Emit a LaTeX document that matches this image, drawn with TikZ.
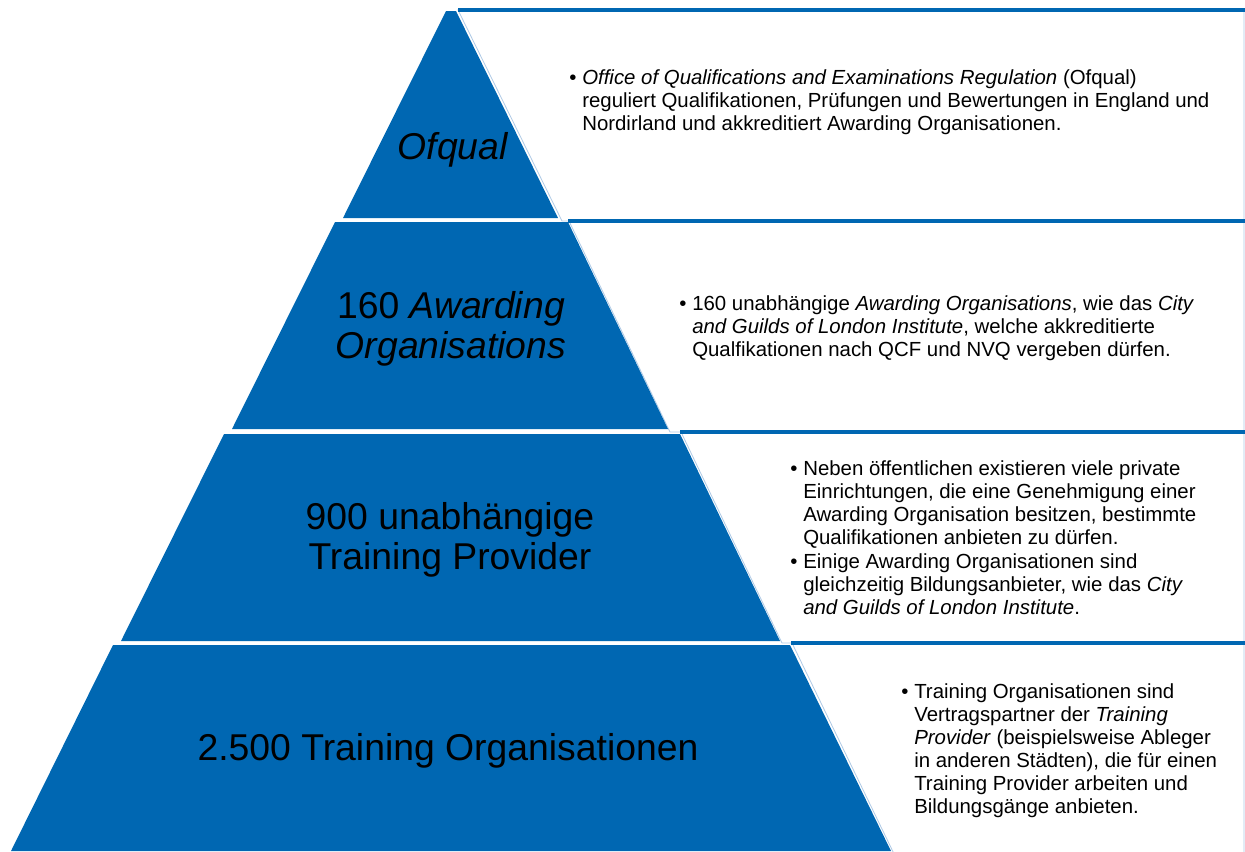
\documentclass[tikz,border=0pt]{standalone}
\usepackage{fontspec}
\setmainfont{Liberation Sans}
\definecolor{pblue}{RGB}{0,103,178}
\definecolor{pale}{RGB}{175,202,230}
\tikzset{
  tier/.style={fill=pblue, draw=none},
  panelframe/.style={draw=pale, line width=0.6pt, fill=white},
  paneltop/.style={draw=pblue, line width=2.4pt},
  biglabel/.style={font=\fontsize{28}{29.5}\selectfont, align=center, inner sep=0pt, text=black},
  bodytext/.style={font=\fontsize{15.3}{17.3}\selectfont, anchor=base west, inner sep=0pt},
  bul/.style={font=\fontsize{15.3}{17.3}\selectfont, anchor=base, inner sep=0pt},
}
\begin{document}
\begin{tikzpicture}[x=0.75pt,y=-0.75pt]
\useasboundingbox (0,0) rectangle (1245,851);
% panels
\draw[panelframe] (458,10) -- (1244,10) -- (1244,221) -- (562,221) -- cycle;
\draw[panelframe] (569,221) -- (1244,221) -- (1244,432) -- (670,432) -- cycle;
\draw[panelframe] (681,432) -- (1244,432) -- (1244,643) -- (782,643) -- cycle;
\draw[panelframe] (792,643) -- (1244,643) -- (1244,860) -- (897,860) -- cycle;
\draw[paneltop] (458,10) -- (1245,10);
\draw[paneltop] (568,221) -- (1245,221);
\draw[paneltop] (680,432) -- (1245,432);
\draw[paneltop] (791,643) -- (1245,643);
% tiers
\fill[tier] (446,11) -- (456,11) -- (558,218) -- (343,218) -- cycle;
\fill[tier] (335,222) -- (568,222) -- (668,429) -- (232,429) -- cycle;
\fill[tier] (224,434) -- (680,434) -- (780,641) -- (121,641) -- cycle;
\fill[tier] (113,645) -- (790,645) -- (891,851) -- (11,851) -- cycle;
% tier labels
\node[biglabel] (l1) at (453,150) {\textit{Ofqual}};
\node[biglabel] (l2) at (451,329) {160 \textit{Awarding}\\\textit{Organisations}};
\node[biglabel] (l3) at (450,540) {900 unabhängige\\Training Provider};
\node[biglabel] (l4) at (448,751) {2.500 Training Organisationen};
% panel texts
\node[bul] (b1) at (573,84) {\textbullet};
\node[bodytext] (t1) at (582,84) {\begin{tabular}[t]{@{}l@{}}\textit{Office of Qualifications and Examinations Regulation} (Ofqual)\\reguliert Qualifikationen, Prüfungen und Bewertungen in England und\\Nordirland und akkreditiert Awarding Organisationen.\end{tabular}};
\node[bul] (b2) at (683,310) {\textbullet};
\node[bodytext] (t2) at (692,310) {\begin{tabular}[t]{@{}l@{}}160 unabhängige \textit{Awarding Organisations}, wie das \textit{City}\\\textit{and Guilds of London Institute}, welche akkreditierte\\Qualfikationen nach QCF und NVQ vergeben dürfen.\end{tabular}};
\node[bul] (b3) at (794,475) {\textbullet};
\node[bodytext] (t3) at (803,475) {\begin{tabular}[t]{@{}l@{}}Neben öffentlichen existieren viele private\\Einrichtungen, die eine Genehmigung einer\\Awarding Organisation besitzen, bestimmte\\Qualifikationen anbieten zu dürfen.\end{tabular}};
\node[bul] (b4) at (794,568) {\textbullet};
\node[bodytext] (t4) at (803,568) {\begin{tabular}[t]{@{}l@{}}Einige Awarding Organisationen sind\\gleichzeitig Bildungsanbieter, wie das \textit{City}\\\textit{and Guilds of London Institute}.\end{tabular}};
\node[bul] (b5) at (905,698) {\textbullet};
\node[bodytext] (t5) at (914,698) {\begin{tabular}[t]{@{}l@{}}Training Organisationen sind\\Vertragspartner der \textit{Training}\\\textit{Provider} (beispielsweise Ableger\\in anderen Städten), die für einen\\Training Provider arbeiten und\\Bildungsgänge anbieten.\end{tabular}};
\end{tikzpicture}
\end{document}
